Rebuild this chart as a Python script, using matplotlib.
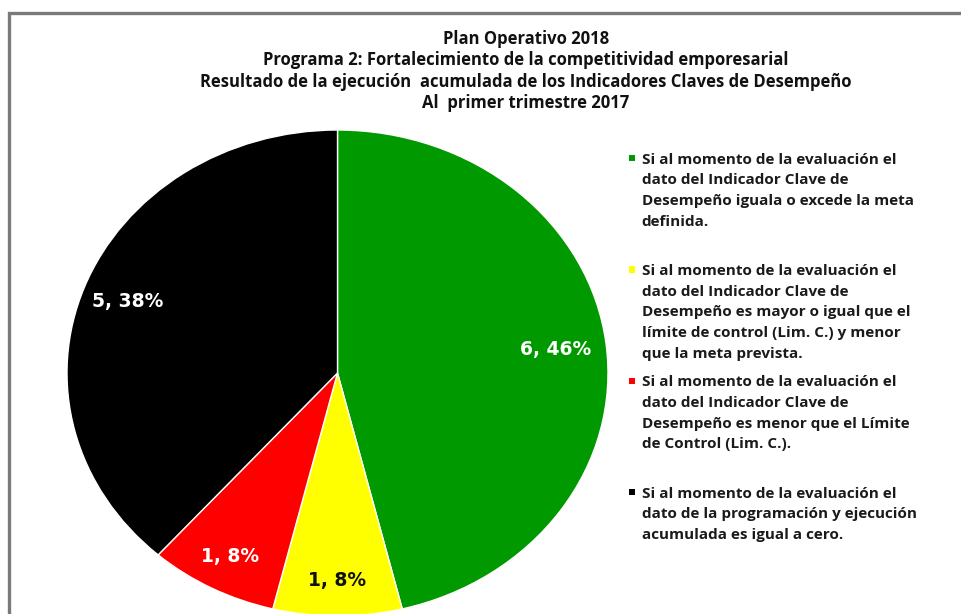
import matplotlib
matplotlib.use("Agg")
import matplotlib.pyplot as plt
from matplotlib.patches import Rectangle, Patch
from matplotlib.legend_handler import HandlerBase

# ---- data ----
categories = [
    "Si al momento de la evaluación el\ndato del Indicador Clave de\nDesempeño iguala o excede la meta\ndefinida.",
    "Si al momento de la evaluación el\ndato del Indicador Clave de\nDesempeño es mayor o igual que el\nlímite de control (Lim. C.) y menor\nque la meta prevista.",
    "Si al momento de la evaluación el\ndato del Indicador Clave de\nDesempeño es menor que el Límite\nde Control (Lim. C.).",
    "Si al momento de la evaluación el\ndato de la programación y ejecución\nacumulada es igual a cero.",
]
values = [6, 1, 1, 5]
colors = ["#009a00", "#ffff00", "#ff0000", "#000000"]
label_colors = ["white", "#111111", "white", "white"]
title_lines = [
    "Plan Operativo 2018",
    "Programa 2: Fortalecimiento de la competitividad emporesarial",
    "Resultado de la ejecución  acumulada de los Indicadores Claves de Desempeño",
    "Al  primer trimestre 2017",
]

W, H = 962, 614
fig = plt.figure(figsize=(W / 100, H / 100), dpi=100)
fig.patch.set_facecolor("white")

# frame border
fig.add_artist(Rectangle((9 / W, -0.2), 1.2, (H - 13) / H + 0.2,
                         transform=fig.transFigure, fill=False,
                         ec="#7a7a7a", lw=2.4))

# pie axes (elliptical pie)
ax = fig.add_axes([67 / W, 1 - 616 / H, 541 / W, (616 - 130) / H])
vals_iter = iter(values)


def fmt(pct):
    v = next(vals_iter)
    return f"{v}, {round(pct):d}%"


wedges, texts, autotexts = ax.pie(
    values, colors=colors, startangle=90, counterclock=False,
    autopct=fmt, pctdistance=0.83,
    wedgeprops=dict(edgecolor="white", linewidth=1.0),
    textprops=dict(fontsize=13.5, fontweight="bold", family="DejaVu Sans"),
)
radial = [0.98, 1.03, 1.03, 1.0]
for t, c, k in zip(autotexts, label_colors, radial):
    t.set_color(c)
    x, y = t.get_position()
    t.set_position((x * k, y * k))
ax.set_aspect("auto")
ax.set_xlim(-1, 1)
ax.set_ylim(-1, 1)
ax.axis("off")

# title
fig.text(526 / W, 1 - 71 / H, "\n".join(title_lines), ha="center", va="center",
         fontsize=12, fontweight="bold", family="Open Sans", color="#111111",
         linespacing=1.22)


class TopSquare(HandlerBase):
    """Square legend marker aligned with the first line of a multi-line label."""

    def __init__(self, nlines, pitch):
        super().__init__()
        self.nlines = nlines
        self.pitch = pitch

    def create_artists(self, legend, orig_handle, xdescent, ydescent,
                       width, height, fontsize, trans):
        s = 0.42 * fontsize
        yc = (height / 2 - ydescent
              + (self.nlines - 1) / 2 * self.pitch * fontsize + 1.2)
        r = Rectangle((width - xdescent - s, yc - s / 2), s, s,
                      facecolor=orig_handle.get_facecolor(), edgecolor="none",
                      transform=trans)
        return [r]


# equal-height legend slots (as in the original chart)
slot_lines = max(c.count("\n") + 1 for c in categories)
leg_labels = [c + "\n" * (slot_lines - (c.count("\n") + 1)) for c in categories]

handles = [Patch(facecolor=c) for c in colors]
lh = 1.6
hmap = {h: TopSquare(slot_lines, 1.355) for h in handles}
leg = fig.legend(handles, leg_labels, loc="upper left",
                 bbox_to_anchor=(612 / W, 1 - 139 / H), frameon=False,
                 handler_map=hmap, handlelength=0.6, handletextpad=0.45,
                 labelspacing=0.98,
                 prop=dict(family="Open Sans", weight="bold", size=11))
for t in leg.get_texts():
    t.set_linespacing(lh)
    t.set_color("#1a1a1a")

fig.savefig("out.png", dpi=100)
